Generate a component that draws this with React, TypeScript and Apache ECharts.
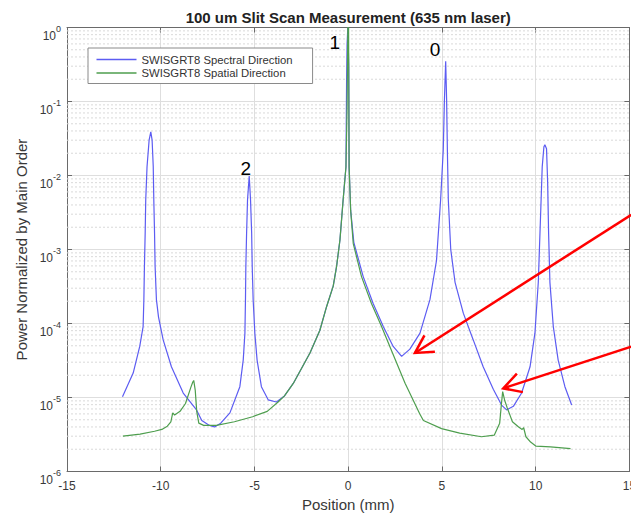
import React, { useEffect, useRef } from 'react';
import * as echarts from 'echarts';

const titleText = '100 um Slit Scan Measurement (635 nm laser)';
const xName = 'Position (mm)';
const yName = 'Power Normalized by Main Order';
const seriesNames = ['SWISGRT8 Spectral Direction', 'SWISGRT8 Spatial Direction'];

const xMin = -15;
const xMax = 15;
const xStep = 5;
const yMin = 1e-6;
const yMax = 1;

// Spectral direction (blue)
const specX = [
  -12.04, -11.47, -11.12, -10.94, -10.9, -10.87, -10.83, -10.8, -10.73, -10.62, -10.53, -10.46, -10.4,
  -10.37, -10.33, -10.3, -10.23, -10.12, -9.87, -9.43, -8.8, -8.09, -7.81, -7.4, -7.13, -6.8, -6.31,
  -5.78, -5.6, -5.51, -5.48, -5.46, -5.42, -5.37, -5.28, -5.21, -5.15, -5.12, -5.07, -4.98, -4.86,
  -4.63, -4.27, -3.83, -3.4, -2.93, -2.04, -1.51, -1.15, -0.8, -0.62, -0.44, -0.27, -0.12, -0.085,
  -0.06, -0.02, 0.03, 0.05, 0.13, 0.3, 0.8, 1.33, 1.87, 2.4, 2.85, 3.29, 3.83, 4.36, 4.71, 4.93, 5.07,
  5.13, 5.2, 5.25, 5.29, 5.34, 5.47, 5.7, 6.14, 6.67, 7.2, 7.74, 8.18, 8.45, 8.81, 9.25, 9.7, 9.96,
  10.14, 10.26, 10.35, 10.44, 10.49, 10.58, 10.64, 10.69, 10.76, 10.94, 11.2, 11.56, 11.92,
];
const specY = [
  1.02e-5, 2.14e-5, 4.9e-5, 9.1e-5, 2.1e-4, 5.9e-4, 1.66e-3, 4.7e-3, 1.32e-2, 3.0e-2, 3.9e-2, 3.0e-2, 1.32e-2,
  4.7e-3, 1.66e-3, 5.9e-4, 2.1e-4, 1.23e-4, 6.0e-5, 2.6e-5, 1.15e-5, 6.8e-6, 4.9e-6, 4.2e-6, 4.0e-6, 4.5e-6, 6.2e-6,
  1.4e-5, 3.2e-5, 7.4e-5, 2.1e-4, 5.9e-4, 1.66e-3, 4.7e-3, 9.8e-3, 4.7e-3, 1.66e-3, 5.9e-4, 2.1e-4, 7.4e-5, 3.2e-5,
  1.4e-5, 9.3e-6, 8.7e-6, 1.05e-5, 1.55e-5, 4.0e-5, 8.1e-5, 1.7e-4, 3.2e-4, 5.9e-4, 1.35e-3, 4.7e-3, 1.3e-2, 0.2,
  0.6, 1.0, 0.3, 1.3e-2, 3.4e-3, 1.25e-3, 4.3e-4, 1.86e-4, 9.1e-5, 4.9e-5, 3.6e-5, 4.5e-5, 7.4e-5, 2.1e-4, 7.1e-4, 4.7e-3, 2.2e-2,
  0.1, 0.35, 0.105, 2.2e-2, 4.7e-3, 1.0e-3, 3.6e-4, 1.38e-4, 6.0e-5, 2.6e-5, 1.29e-5, 7.9e-6, 6.8e-6, 7.6e-6, 1.15e-5, 2.6e-5, 7.4e-5,
  3.6e-4, 2.8e-3, 1.32e-2, 2.45e-2, 2.6e-2, 2.3e-2, 7.9e-3, 1.66e-3, 3.6e-4, 9.1e-5, 3.2e-5, 1.4e-5, 7.9e-6,
];

// Spatial direction (green)
const spatX = [
  -12.02, -11.1, -10.33, -9.94, -9.65, -9.46, -9.36, -9.26, -8.97, -8.68, -8.39, -8.29, -8.24, -8.16,
  -8.08, -7.97, -7.71, -7.03, -6.07, -5.1, -4.32, -3.74, -3.4, -2.93, -2.04, -1.51, -1.15, -0.8, -0.62,
  -0.44, -0.27, -0.12, -0.06, -0.02, 0.02, 0.05, 0.13, 0.27, 0.71, 1.24, 1.78, 2.22, 3.04, 3.82, 4.01,
  4.98, 5.95, 7.11, 7.79, 8.08, 8.17, 8.24, 8.35, 8.47, 8.76, 9.09, 9.28, 9.36, 9.48, 9.73, 10.02,
  10.79, 11.86,
];
const spatY = [
  3.0e-6, 3.2e-6, 3.5e-6, 3.7e-6, 4.1e-6, 4.7e-6, 6.2e-6, 5.8e-6, 6.5e-6, 8.3e-6, 1.38e-5, 1.62e-5, 1.7e-5, 1.26e-5,
  6.5e-6, 4.5e-6, 4.2e-6, 4.2e-6, 4.7e-6, 5.5e-6, 6.5e-6, 8.7e-6, 1.05e-5, 1.55e-5, 4.0e-5, 8.1e-5, 1.7e-4, 3.2e-4, 5.9e-4,
  1.35e-3, 4.7e-3, 1.3e-2, 0.08, 1.0, 1.0, 1.3e-2, 3.4e-3, 1.2e-3, 4.3e-4, 1.86e-4, 9.1e-5, 4.9e-5, 1.55e-5, 6.0e-6, 4.9e-6,
  3.8e-6, 3.3e-6, 2.95e-6, 3.1e-6, 4.5e-6, 8.0e-6, 1.2e-5, 9.1e-6, 7.4e-6, 4.7e-6, 4.0e-6, 3.7e-6, 3.9e-6, 2.95e-6, 2.5e-6, 2.2e-6,
  2.15e-6, 2.04e-6,
];

// Order labels (data coordinates)
const orderLabels = [
  { text: '1', x: -0.71, y: 0.62 },
  { text: '0', x: 4.63, y: 0.5 },
  { text: '2', x: -5.46, y: 0.0126 },
];

// Red annotation arrows (data coordinates)
const arrows = [
  { tip: [3.56, 4.0e-5], tail: [15.1, 2.95e-3] },
  { tip: [8.27, 1.33e-5], tail: [15.1, 4.86e-5] },
];

const FONT = 'Liberation Sans, Arial, Helvetica, sans-serif';

export default function App() {
  const ref = useRef<HTMLDivElement>(null);

  useEffect(() => {
    if (!ref.current) return;
    const chart = echarts.init(ref.current, undefined, { renderer: 'svg' });

    const minorVals: number[] = [];
    for (let e = -6; e < 0; e++) {
      for (let k = 2; k <= 9; k++) minorVals.push(k * Math.pow(10, e));
    }

    const axisLineColor = '#6a6a6a';
    const labelColor = '#383838';

    const minorSeries = minorVals.map((v, i) => ({
      name: 'minor' + i,
      type: 'line',
      xAxisIndex: 0,
      yAxisIndex: 0,
      data: [
        [xMin, v],
        [xMax, v],
      ],
      symbol: 'none',
      showSymbol: false,
      silent: true,
      lineStyle: { color: '#d9d9d9', width: 1, type: [2, 2] },
      emphasis: { disabled: true },
      z: 1,
    }));

    chart.setOption({
      animation: false,
      backgroundColor: '#ffffff',
      textStyle: { fontFamily: FONT },
      grid: { left: 67, right: 1.6, top: 27.5, bottom: 41.5, containLabel: false, outerBoundsMode: 'none' },
      legend: {
        show: true,
        data: seriesNames.map((n) => ({ name: n })),
        orient: 'vertical',
        left: 88,
        top: 48,
        icon: 'rect',
        itemWidth: 40,
        itemHeight: 1.5,
        itemGap: 2.5,
        padding: [6, 20, 5, 8.5],
        backgroundColor: '#ffffff',
        borderColor: '#8a8a8a',
        borderWidth: 1,
        borderRadius: 0,
        selectedMode: false,
        textStyle: { fontSize: 11.3, color: '#333333', fontFamily: FONT },
      },
      xAxis: [
        {
          type: 'value',
          min: xMin,
          max: xMax,
          interval: xStep,
          position: 'bottom',
          name: xName,
          nameLocation: 'middle',
          nameGap: 25,
          nameTextStyle: { fontSize: 15, color: labelColor, fontFamily: FONT },
          axisLine: { show: true, onZero: false, lineStyle: { color: axisLineColor, width: 1 } },
          axisTick: { show: true, inside: true, length: 5, lineStyle: { color: axisLineColor } },
          axisLabel: { fontSize: 12, color: labelColor, margin: 8, fontFamily: FONT, showMaxLabel: true, showMinLabel: true, hideOverlap: false },
          splitLine: { show: true, lineStyle: { color: '#dedede', width: 1 } },
        },
        {
          type: 'value',
          min: xMin,
          max: xMax,
          interval: xStep,
          position: 'top',
          axisLine: { show: true, onZero: false, lineStyle: { color: axisLineColor, width: 1 } },
          axisTick: { show: true, inside: true, length: 5, lineStyle: { color: axisLineColor } },
          axisLabel: { show: false },
          splitLine: { show: false },
        },
      ],
      yAxis: [
        {
          type: 'log',
          logBase: 10,
          min: yMin,
          max: yMax,
          splitNumber: 6,
          position: 'left',
          name: yName,
          nameLocation: 'middle',
          nameGap: 30,
          nameTextStyle: { fontSize: 15, color: labelColor, fontFamily: FONT },
          axisLine: { show: true, onZero: false, lineStyle: { color: axisLineColor, width: 1 } },
          axisTick: { show: true, inside: true, length: 5, lineStyle: { color: axisLineColor } },
          axisLabel: {
            margin: 6,
            color: labelColor,
            fontFamily: FONT,
            formatter: (v: number) => `{b|10}{s|${Math.round(Math.log10(v))}}`,
            rich: {
              b: { fontSize: 12, lineHeight: 12, padding: [8, 0, 0, 0], verticalAlign: 'top', color: labelColor, fontFamily: FONT },
              s: { fontSize: 9, lineHeight: 9, padding: [3, 0, 0, 0], verticalAlign: 'top', color: labelColor, fontFamily: FONT },
            },
          },
          splitLine: { show: true, lineStyle: { color: '#dedede', width: 1 } },
        },
        {
          type: 'log',
          logBase: 10,
          min: yMin,
          max: yMax,
          splitNumber: 6,
          position: 'right',
          axisLine: { show: true, onZero: false, lineStyle: { color: axisLineColor, width: 1 } },
          axisTick: { show: true, inside: true, length: 5, lineStyle: { color: axisLineColor } },
          axisLabel: { show: false },
          splitLine: { show: false },
        },
      ],
      series: [
        ...minorSeries,
        {
          name: seriesNames[0],
          type: 'line',
          xAxisIndex: 0,
          yAxisIndex: 0,
          data: specX.map((x, i) => [x, specY[i]]),
          showSymbol: false,
          symbol: 'none',
          lineStyle: { color: '#5c5cf2', width: 1.2 },
          itemStyle: { color: '#5c5cf2' },
          z: 3,
        },
        {
          name: seriesNames[1],
          type: 'line',
          xAxisIndex: 0,
          yAxisIndex: 0,
          data: spatX.map((x, i) => [x, spatY[i]]),
          showSymbol: false,
          symbol: 'none',
          lineStyle: { color: '#4e9e4e', width: 1.2 },
          itemStyle: { color: '#4e9e4e' },
          z: 4,
        },
      ],
    });

    const toPx = (p: number[]) => chart.convertToPixel({ gridIndex: 0 }, p) as number[];
    const topCenter = toPx([0, yMax]);
    const graphics: any[] = [
      {
        type: 'text',
        x: topCenter[0],
        y: topCenter[1] - 10,
        style: {
          text: titleText,
          font: `bold 15px ${FONT}`,
          fill: '#222222',
          align: 'center',
          verticalAlign: 'middle',
        },
        z: 100,
      },
    ];
    orderLabels.forEach((l) => {
      const p = toPx([l.x, l.y]);
      graphics.push({
        type: 'text',
        x: p[0],
        y: p[1],
        style: { text: l.text, font: `19px ${FONT}`, fill: '#000000', align: 'center', verticalAlign: 'middle' },
        z: 100,
      });
    });
    const armLen = 20;
    const armAng = (29 * Math.PI) / 180;
    arrows.forEach((a) => {
      const tip = toPx(a.tip);
      const tail = toPx(a.tail);
      const ang = Math.atan2(tail[1] - tip[1], tail[0] - tip[0]);
      const p1 = [tip[0] + armLen * Math.cos(ang - armAng), tip[1] + armLen * Math.sin(ang - armAng)];
      const p2 = [tip[0] + armLen * Math.cos(ang + armAng), tip[1] + armLen * Math.sin(ang + armAng)];
      graphics.push({
        type: 'line',
        shape: { x1: tip[0], y1: tip[1], x2: tail[0], y2: tail[1] },
        style: { stroke: '#ff0000', lineWidth: 2.5 },
        z: 100,
      });
      graphics.push({
        type: 'polyline',
        shape: { points: [p1, tip, p2] },
        style: { stroke: '#ff0000', lineWidth: 2.5, fill: null, lineJoin: 'miter' },
        z: 100,
      });
    });
    chart.setOption({ graphic: graphics });

    return () => chart.dispose();
  }, []);

  return (
    <div
      ref={ref}
      style={{ position: 'absolute', left: 0, top: 0, width: 631, height: 513, background: '#fff' }}
    />
  );
}
